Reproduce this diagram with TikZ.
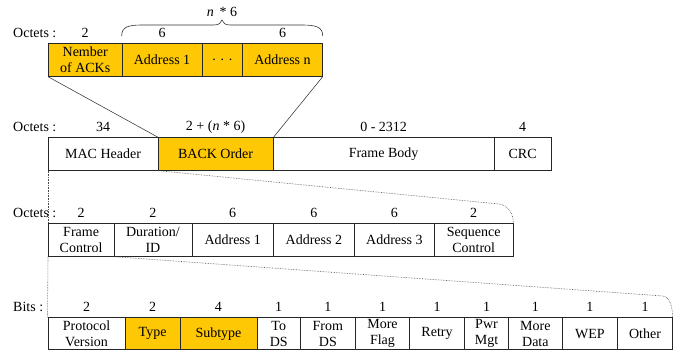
\documentclass[tikz,border=0pt]{standalone}
\usepackage{fontspec}
\setmainfont{Liberation Serif}
\usetikzlibrary{calc}
\definecolor{gold}{RGB}{254,200,4}
\newcommand\fieldbox[7]{\node[field,#6,minimum width=#3-#2,minimum height=#5-#4] (#1) at (#2,#4) {#7};}
\begin{document}
\begin{tikzpicture}[x=1pt,y=-1pt,
  field/.style={draw=black!85,line width=0.7pt,anchor=north west,inner sep=0pt,align=center,
    font=\fontsize{14}{16}\selectfont,text=black},
  hl/.style={fill=gold},
  lbl/.style={font=\fontsize{14}{16}\selectfont,inner sep=0pt,text=black},
  link/.style={line width=0.55pt,black!80},
  dlink/.style={line width=0.6pt,black!70,densely dotted}]
\useasboundingbox (0,0) rectangle (680,352);

% ---- row 1 ----
\fieldbox{nack}{48}{121.7}{43}{76}{hl}{Nember\\of ACKs}
\fieldbox{addra}{121.7}{201.7}{43}{76}{hl}{Address 1}
\fieldbox{dots}{201.7}{242.3}{43}{76}{hl}{.\,\,.\,\,.}
\fieldbox{addrn}{242.3}{322}{43}{76}{hl}{Address n}
\node[lbl,anchor=west] (o1) at (13,33) {Octets :};
\node[lbl] (l1a) at ($(nack.north)+(0,-10)$) {2};
\node[lbl] (l1b) at ($(addra.north)+(0,-10)$) {6};
\node[lbl] (l1c) at ($(addrn.north)+(0,-10)$) {6};
\coordinate (bl) at ($(addra.north west)+(0,-7)$);
\coordinate (br) at ($(addrn.north east)+(0,-7)$);
\coordinate (btip) at (222,20);
\draw[line width=0.6pt,black!80] (bl) .. controls +(0,-9) and +(-14,0) .. (142,25) -- (214,25)
  .. controls +(5,0) and +(-1,3) .. (btip) .. controls +(1,3) and +(-5,0) .. (230,25) -- (302,25)
  .. controls +(14,0) and +(0,-9) .. (br);
\node[lbl] (nn) at (222,12) {{\itshape n}\, * 6};

% ---- row 2 ----
\fieldbox{mac}{48}{157.5}{137}{170}{}{MAC Header}
\fieldbox{back}{157.5}{273}{137}{170}{hl}{BACK Order}
\fieldbox{body}{273}{493.5}{137}{170}{}{Frame Body}
\fieldbox{crc}{493.5}{551}{137}{170}{}{CRC}
\node[lbl,anchor=west] (o2) at (13,127) {Octets :};
\node[lbl] (l2a) at ($(mac.north)+(0,-10)$) {34};
\node[lbl] (l2b) at ($(back.north)+(0,-10)$) {2 + ({\itshape n} * 6)};
\node[lbl] (l2c) at ($(body.north)+(0,-10)$) {0 - 2312};
\node[lbl] (l2d) at ($(crc.north)+(0,-10)$) {4};

% ---- row 3 ----
\fieldbox{frame}{48}{113.5}{223}{256}{}{Frame\\Control}
\fieldbox{dur}{113.5}{191.7}{223}{256}{}{Duration/\\ID}
\fieldbox{ad1}{191.7}{273}{223}{256}{}{Address 1}
\fieldbox{ad2}{273}{354}{223}{256}{}{Address 2}
\fieldbox{ad3}{354}{434}{223}{256}{}{Address 3}
\fieldbox{seq}{434}{512.7}{223}{256}{}{Sequence\\Control}
\node[lbl,anchor=west] (o3) at (13,213) {Octets :};
\foreach \n/\v in {frame/2,dur/2,ad1/6,ad2/6,ad3/6,seq/2}
  \node[lbl] (l3\n) at ($(\n.north)+(0,-10)$) {\v};

% ---- row 4 ----
\fieldbox{pv}{47.5}{125}{317.5}{349.5}{}{Protocol\\Version}
\fieldbox{typ}{125}{179.5}{317.5}{349.5}{hl}{Type}
\fieldbox{sub}{179.5}{256.7}{317.5}{349.5}{hl}{Subtype}
\fieldbox{tods}{256.7}{300}{317.5}{349.5}{}{To\\DS}
\fieldbox{fromds}{300}{355}{317.5}{349.5}{}{From\\DS}
\fieldbox{mf}{355}{409.3}{317.5}{349.5}{}{More\\Flag}
\fieldbox{retry}{409.3}{464}{317.5}{349.5}{}{Retry}
\fieldbox{pwr}{464}{508.3}{317.5}{349.5}{}{Pwr\\Mgt}
\fieldbox{md}{508.3}{561.7}{317.5}{349.5}{}{More\\Data}
\fieldbox{wep}{561.7}{617.3}{317.5}{349.5}{}{WEP}
\fieldbox{other}{617.3}{672}{317.5}{349.5}{}{Other}
\node[lbl,anchor=west] (o4) at (13,307) {Bits :};
\foreach \n/\v in {pv/2,typ/2,sub/4,tods/1,fromds/1,mf/1,retry/1,pwr/1,md/1,wep/1,other/1}
  \node[lbl] (l4\n) at ($(\n.north)+(0,-10.5)$) {\v};

% ---- connectors ----
\draw[link] (nack.south west) -- (back.north west);
\draw[link] (addrn.south east) -- (back.north east);
\draw[dlink] (mac.south west) -- (frame.north west);
\coordinate (c1) at (499,204);
\draw[dlink] (mac.south east) -- (c1) .. controls +(9,1) and +(0,-9) .. (seq.north east);
\draw[dlink] (frame.south west) -- (pv.north west);
\coordinate (c2) at (663,296);
\draw[dlink] (frame.south east) -- (c2) .. controls +(7,0.5) and +(0,-9) .. (other.north east);
\end{tikzpicture}
\end{document}
